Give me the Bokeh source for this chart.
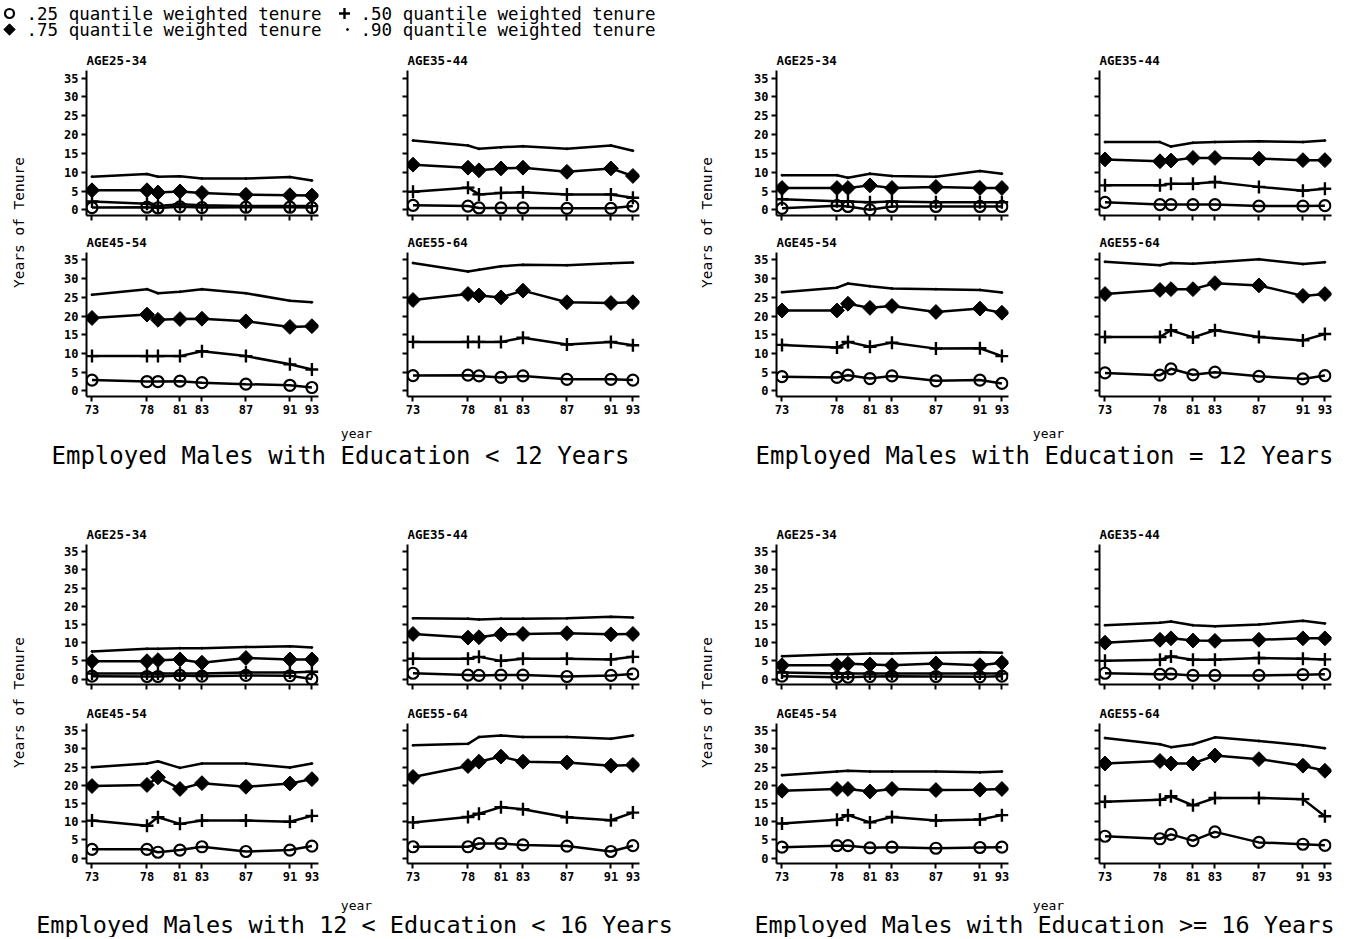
import numpy as np
from bokeh.plotting import figure
from bokeh.layouts import row, column
from bokeh.models import Range1d, FixedTicker
from bokeh.embed import file_html
from bokeh.resources import INLINE
from bokeh.core.properties import value

# ---------------- data ----------------
YEARS = [73, 78, 79, 81, 83, 87, 91, 93]
XTICKS = [73, 78, 81, 83, 87, 91, 93]
YTICKS = [0, 5, 10, 15, 20, 25, 30, 35]
AGES = ["AGE25-34", "AGE35-44", "AGE45-54", "AGE55-64"]
PANEL_TITLES = [
    "Employed Males with Education < 12 Years",
    "Employed Males with Education = 12 Years",
    "Employed Males with 12 < Education < 16 Years",
    "Employed Males with Education >= 16 Years",
]
LEGEND_LABELS = [".25 quantile weighted tenure", ".50 quantile weighted tenure",
                 ".75 quantile weighted tenure", ".90 quantile weighted tenure"]

# Education < 12
E1_A25_Q25 = [0.6, 0.7, 0.5, 0.8, 0.6, 0.7, 0.7, 0.6]
E1_A25_Q50 = [2.2, 1.6, 1.0, 1.5, 1.2, 1.0, 1.0, 1.0]
E1_A25_Q75 = [5.2, 5.2, 4.6, 4.9, 4.5, 4.0, 3.9, 3.8]
E1_A25_Q90 = [8.8, 9.5, 8.8, 8.9, 8.3, 8.3, 8.7, 7.8]
E1_A35_Q25 = [1.2, 1.0, 0.5, 0.5, 0.5, 0.4, 0.4, 1.0]
E1_A35_Q50 = [4.8, 5.9, 4.1, 4.5, 4.7, 4.1, 4.1, 3.2]
E1_A35_Q75 = [12.0, 11.2, 10.5, 11.0, 11.2, 10.1, 11.0, 9.0]
E1_A35_Q90 = [18.4, 17.1, 16.2, 16.6, 16.9, 16.2, 17.1, 15.7]
E1_A45_Q25 = [2.9, 2.5, 2.5, 2.6, 2.2, 1.8, 1.5, 0.9]
E1_A45_Q50 = [9.3, 9.3, 9.3, 9.3, 10.6, 9.3, 7.1, 5.7]
E1_A45_Q75 = [19.5, 20.4, 19.0, 19.2, 19.3, 18.6, 17.1, 17.3]
E1_A45_Q90 = [25.7, 27.2, 26.1, 26.5, 27.2, 26.1, 24.1, 23.7]
E1_A55_Q25 = [4.1, 4.2, 4.0, 3.6, 4.0, 3.1, 3.1, 2.9]
E1_A55_Q50 = [13.1, 13.1, 13.1, 13.1, 14.2, 12.4, 13.1, 12.2]
E1_A55_Q75 = [24.3, 25.9, 25.5, 25.0, 26.8, 23.7, 23.5, 23.7]
E1_A55_Q90 = [34.2, 31.9, 32.4, 33.3, 33.7, 33.6, 34.1, 34.3]

# Education = 12
E2_A25_Q25 = [0.4, 1.1, 0.9, 0.0, 0.9, 0.9, 0.9, 0.9]
E2_A25_Q50 = [2.8, 2.3, 2.2, 2.0, 2.2, 2.0, 2.0, 2.0]
E2_A25_Q75 = [5.8, 5.8, 5.8, 6.5, 5.8, 6.1, 5.8, 5.8]
E2_A25_Q90 = [9.2, 9.2, 8.5, 9.6, 9.0, 8.8, 10.3, 9.6]
E2_A35_Q25 = [2.0, 1.4, 1.4, 1.4, 1.4, 1.0, 1.0, 1.1]
E2_A35_Q50 = [6.5, 6.5, 6.9, 6.9, 7.4, 6.1, 5.1, 5.6]
E2_A35_Q75 = [13.4, 12.9, 13.1, 13.8, 13.8, 13.6, 13.2, 13.2]
E2_A35_Q90 = [18.0, 18.0, 16.8, 17.8, 18.0, 18.2, 18.0, 18.4]
E2_A45_Q25 = [3.8, 3.6, 4.2, 3.3, 4.0, 2.7, 2.9, 2.0]
E2_A45_Q50 = [12.3, 11.6, 13.1, 11.8, 12.9, 11.3, 11.4, 9.3]
E2_A45_Q75 = [21.5, 21.5, 23.3, 22.2, 22.7, 21.1, 22.0, 20.9]
E2_A45_Q90 = [26.4, 27.6, 28.7, 28.0, 27.4, 27.2, 27.0, 26.3]
E2_A55_Q25 = [4.8, 4.2, 5.9, 4.3, 5.0, 3.9, 3.2, 4.1]
E2_A55_Q50 = [14.4, 14.4, 16.2, 14.3, 16.2, 14.4, 13.5, 15.2]
E2_A55_Q75 = [25.9, 27.0, 27.2, 27.2, 28.8, 28.2, 25.4, 25.9]
E2_A55_Q90 = [34.5, 33.6, 34.2, 34.0, 34.4, 35.2, 33.9, 34.4]

# 12 < Education < 16
E3_A25_Q25 = [0.8, 0.7, 0.7, 1.0, 0.8, 1.0, 0.9, 0.0]
E3_A25_Q50 = [1.5, 1.5, 1.5, 1.5, 1.5, 1.8, 1.8, 2.0]
E3_A25_Q75 = [4.9, 4.9, 5.2, 5.4, 4.5, 5.8, 5.4, 5.4]
E3_A25_Q90 = [7.6, 8.3, 8.3, 8.5, 8.5, 8.8, 9.0, 8.7]
E3_A35_Q25 = [1.6, 1.1, 1.0, 1.1, 1.1, 0.7, 1.0, 1.4]
E3_A35_Q50 = [5.6, 5.6, 6.1, 5.0, 5.6, 5.6, 5.4, 6.1]
E3_A35_Q75 = [12.4, 11.4, 11.5, 12.3, 12.4, 12.6, 12.3, 12.4]
E3_A35_Q90 = [16.7, 16.6, 16.4, 16.6, 16.6, 16.7, 17.1, 16.9]
E3_A45_Q25 = [2.4, 2.4, 1.6, 2.2, 3.1, 1.8, 2.2, 3.3]
E3_A45_Q50 = [10.3, 8.9, 11.2, 9.4, 10.3, 10.3, 10.0, 11.6]
E3_A45_Q75 = [19.8, 20.1, 22.2, 19.0, 20.6, 19.6, 20.5, 21.7]
E3_A45_Q90 = [25.0, 26.0, 26.6, 24.8, 26.0, 26.0, 24.9, 26.0]
E3_A55_Q25 = [3.1, 3.1, 4.0, 4.0, 3.6, 3.3, 1.8, 3.4]
E3_A55_Q50 = [9.8, 11.3, 12.2, 14.0, 13.4, 11.2, 10.4, 12.5]
E3_A55_Q75 = [22.3, 25.3, 26.5, 27.9, 26.5, 26.3, 25.4, 25.6]
E3_A55_Q90 = [31.0, 31.4, 33.3, 33.7, 33.3, 33.3, 32.8, 33.7]

# Education >= 16
E4_A25_Q25 = [0.8, 0.5, 0.5, 0.7, 0.8, 0.7, 0.6, 0.8]
E4_A25_Q50 = [1.8, 1.5, 1.5, 1.5, 1.5, 1.5, 1.5, 1.5]
E4_A25_Q75 = [3.8, 3.8, 4.2, 4.0, 3.8, 4.3, 3.8, 4.5]
E4_A25_Q90 = [6.3, 6.8, 6.8, 7.0, 7.0, 7.2, 7.4, 7.2]
E4_A35_Q25 = [1.6, 1.3, 1.4, 1.0, 1.0, 1.0, 1.2, 1.3]
E4_A35_Q50 = [5.0, 5.3, 6.2, 5.3, 5.3, 5.8, 5.6, 5.4]
E4_A35_Q75 = [10.0, 10.8, 11.2, 10.6, 10.5, 10.8, 11.2, 11.2]
E4_A35_Q90 = [14.8, 15.5, 15.8, 14.8, 14.5, 15.0, 16.0, 15.3]
E4_A45_Q25 = [3.0, 3.4, 3.4, 2.8, 3.0, 2.7, 2.9, 3.0]
E4_A45_Q50 = [9.5, 10.5, 11.8, 9.8, 11.3, 10.3, 10.6, 11.8]
E4_A45_Q75 = [18.5, 19.0, 19.0, 18.3, 19.0, 18.7, 18.8, 19.0]
E4_A45_Q90 = [22.8, 23.8, 24.0, 23.8, 23.8, 23.8, 23.6, 23.8]
E4_A55_Q25 = [6.0, 5.3, 6.5, 4.8, 7.2, 4.3, 3.8, 3.5]
E4_A55_Q50 = [15.5, 16.0, 17.0, 14.5, 16.5, 16.5, 16.2, 11.5]
E4_A55_Q75 = [26.0, 26.7, 26.0, 26.0, 28.2, 27.2, 25.4, 24.0]
E4_A55_Q90 = [33.0, 31.3, 30.5, 31.3, 33.2, 32.2, 31.0, 30.2]

g = globals()
def series(e, a):
    return [g[f"E{e}_A{a}_Q{q}"] for q in (25, 50, 75, 90)]

FONT = "DejaVu Sans Mono"
BLACK = "black"

# ---------------- helpers ----------------
def style_axis(ax, show_labels, ticks):
    ax.ticker = FixedTicker(ticks=ticks)
    ax.axis_line_width = 2
    ax.axis_line_color = BLACK
    ax.major_tick_line_width = 2
    ax.major_tick_line_color = BLACK
    ax.major_tick_out = 5
    ax.major_tick_in = 0
    ax.minor_tick_line_color = None
    ax.major_label_text_font = FONT
    ax.major_label_text_font_style = "bold"
    ax.major_label_text_color = BLACK
    if show_labels:
        ax.major_label_text_font_size = "12px"
        ax.major_label_standoff = 3
    else:
        ax.major_label_overrides = {t: "" for t in ticks}
        ax.major_label_text_font_size = "0px"
        ax.major_label_standoff = 0


def make_sub(e, a, title, left_col, bottom_row, width, bl, br, height, bt, bb):
    p = figure(width=width, height=height,
               x_range=Range1d(72.5, 93.6), y_range=Range1d(-1.5, 37),
               output_backend="svg", toolbar_location=None,
               min_border_left=bl, min_border_right=br,
               min_border_top=bt, min_border_bottom=bb, title=title)
    p.title.text_font = FONT
    p.title.text_font_style = "bold"
    p.title.text_font_size = "12.5px"
    p.title.text_color = BLACK
    p.title.standoff = 6
    p.title.align = "left"
    p.outline_line_color = None
    p.grid.visible = False
    style_axis(p.xaxis[0], bottom_row, XTICKS)
    style_axis(p.yaxis[0], left_col, YTICKS)
    q25, q50, q75, q90 = series(e, a)
    for vals in (q25, q50, q75, q90):
        p.line(YEARS, vals, line_width=2.5, line_color=BLACK)
    p.scatter(YEARS, q25, marker="circle", size=11, line_width=2.2,
              line_color=BLACK, fill_color=None)
    p.scatter(YEARS, q50, marker="cross", size=13, line_width=2.4,
              line_color=BLACK)
    p.scatter(YEARS, q75, marker="square", angle=np.pi / 4, size=10.5,
              line_width=1, line_color=BLACK, fill_color=BLACK)
    p.scatter(YEARS, q90, marker="circle", size=2, line_color=BLACK,
              fill_color=BLACK)
    return p


def blank(width, height):
    p = figure(width=width, height=height, x_range=Range1d(0, width),
               y_range=Range1d(height, 0), output_backend="svg",
               toolbar_location=None, x_axis_location=None,
               y_axis_location=None, min_border=0)
    p.outline_line_color = None
    p.grid.visible = False
    return p


def ylabel_fig(width, height, cx, cy):
    p = blank(width, height)
    p.text(x=[cx], y=[cy], text=["Years of Tenure"], angle=np.pi / 2,
           text_font=value(FONT), text_font_size="14.5px", text_color=BLACK,
           text_align="center", text_baseline="middle")
    return p


def panel_grid(e, wr, blr, brr, h1, bt1, bb1, h2, bt2, bb2):
    s1 = make_sub(e, 25, AGES[0], True, False, 312, 38, 42, h1, bt1, bb1)
    s2 = make_sub(e, 35, AGES[1], False, False, wr, blr, brr, h1, bt1, bb1)
    s3 = make_sub(e, 45, AGES[2], True, True, 312, 38, 42, h2, bt2, bb2)
    s4 = make_sub(e, 55, AGES[3], False, True, wr, blr, brr, h2, bt2, bb2)
    return column(row(s1, s2), row(s3, s4))

# ---------------- legend ----------------
W = 1346
leg = blank(W, 46)
leg.scatter([9], [13], marker="circle", size=9, line_width=2.2, line_color=BLACK, fill_color=None)
leg.scatter([344], [13], marker="cross", size=11, line_width=2.4, line_color=BLACK)
leg.scatter([9], [29], marker="square", angle=np.pi / 4, size=8, line_color=BLACK, fill_color=BLACK)
leg.scatter([347], [29], marker="circle", size=2, line_color=BLACK, fill_color=BLACK)
leg.text(x=[26, 360, 26, 360], y=[13, 13, 29, 29], text=LEGEND_LABELS,
         text_font=value(FONT), text_font_size="17.5px", text_color=BLACK,
         text_align="left", text_baseline="middle")

# ---------------- top panels ----------------
top = row(ylabel_fig(48, 374, 18, 176),
          panel_grid(1, 338, 47, 59, 183, 24, 14, 191, 22, 24),
          ylabel_fig(40, 374, 8, 176),
          panel_grid(2, 296, 49, 15, 183, 24, 14, 191, 22, 24))

foot1 = blank(W, 100)
foot1.text(x=[356, 1048], y=[13, 13], text=["year", "year"], text_font=value(FONT),
           text_font_size="13px", text_color=BLACK, text_align="center",
           text_baseline="middle")
foot1.text(x=[340, 1044], y=[35, 35], text=[PANEL_TITLES[0], PANEL_TITLES[1]],
           text_font=value(FONT), text_font_size="24px", text_color=BLACK,
           text_align="center", text_baseline="middle")

# ---------------- bottom panels ----------------
bottom = row(ylabel_fig(48, 368, 18, 182),
             panel_grid(3, 338, 47, 59, 178, 24, 14, 190, 25, 25),
             ylabel_fig(40, 368, 8, 182),
             panel_grid(4, 296, 49, 15, 178, 24, 14, 190, 25, 25))

foot2 = blank(W, 49)
foot2.text(x=[356, 1048], y=[17, 17], text=["year", "year"], text_font=value(FONT),
           text_font_size="13px", text_color=BLACK, text_align="center",
           text_baseline="middle")
foot2.text(x=[354, 1044], y=[36, 36], text=[PANEL_TITLES[2], PANEL_TITLES[3]],
           text_font=value(FONT), text_font_size="23.5px", text_color=BLACK,
           text_align="center", text_baseline="middle")

page = column(leg, top, foot1, bottom, foot2)
open("out.html", "w").write(file_html(page, INLINE))
